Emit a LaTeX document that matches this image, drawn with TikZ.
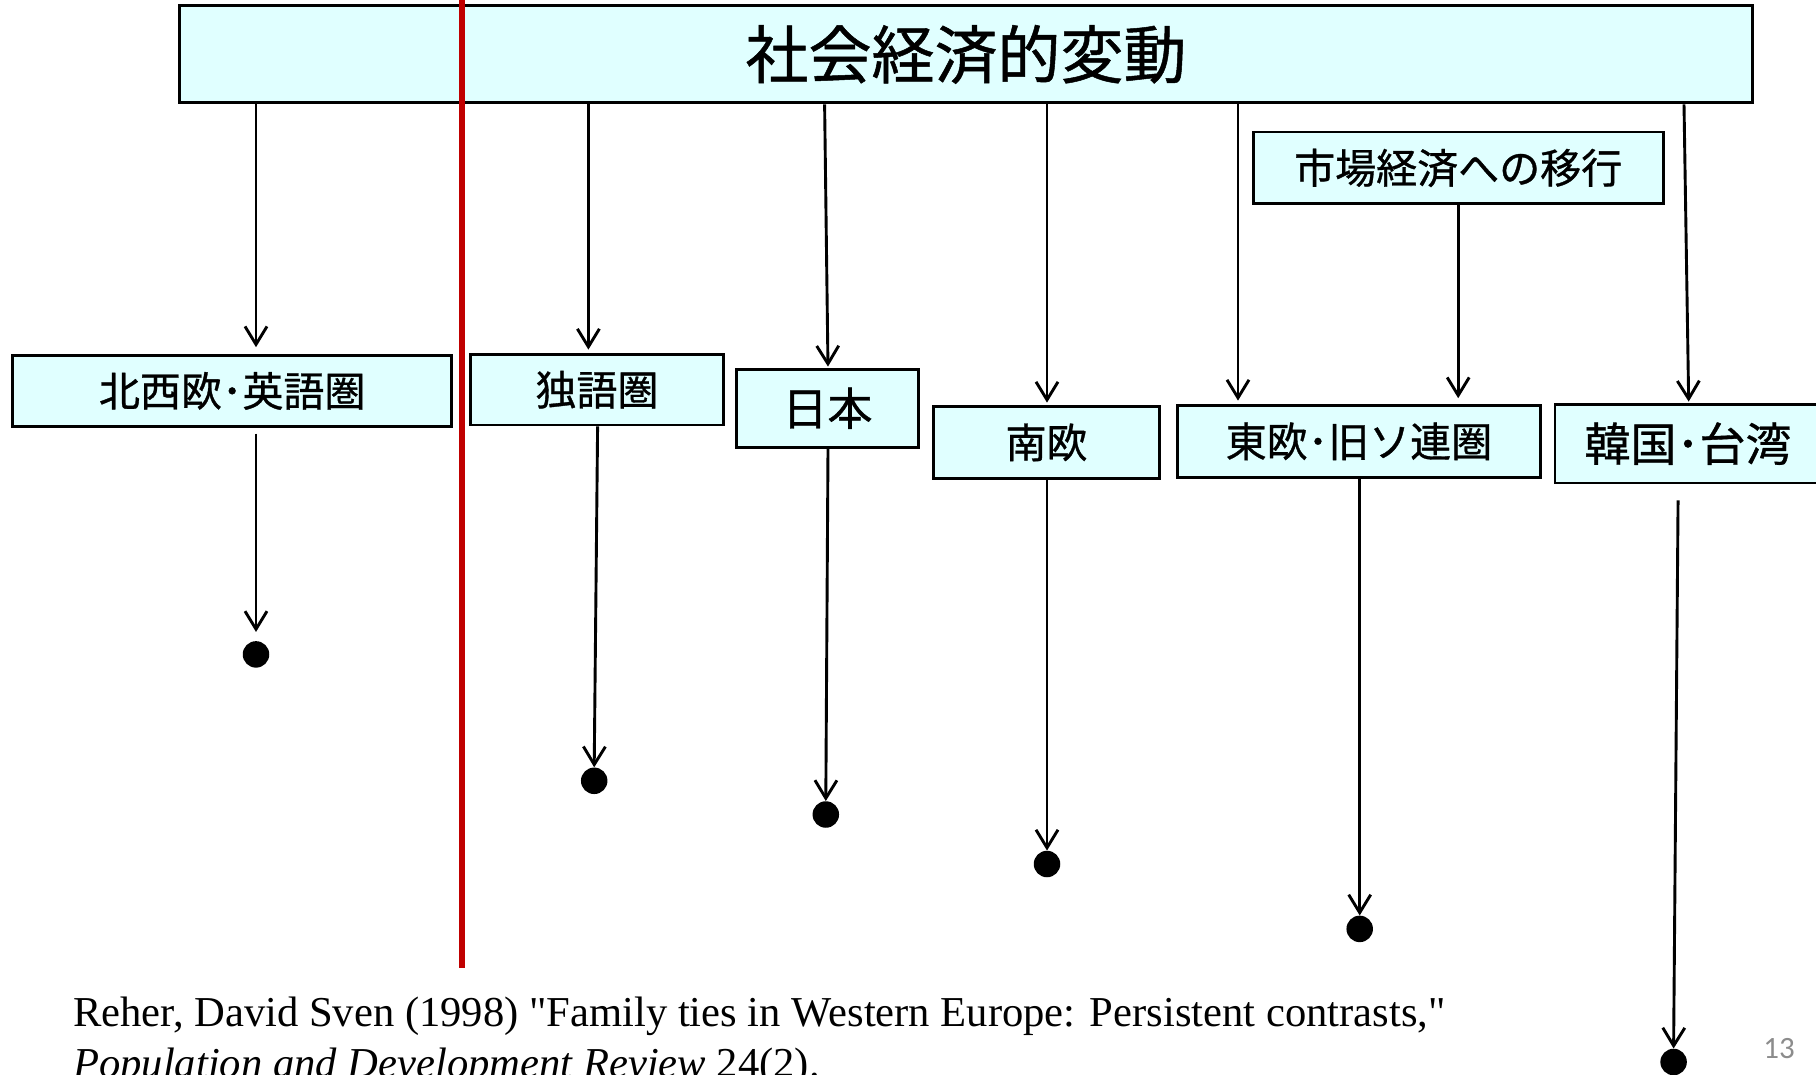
\documentclass[tikz,border=0pt]{standalone}
\usepackage{fontspec}
\setmainfont{Liberation Serif}
\newfontfamily\citefont{Liberation Serif}
\newfontfamily\jpfont[FakeBold=0.8]{Noto Sans CJK JP}
\newfontfamily\calfont{Carlito}
\usetikzlibrary{arrows.meta}
\definecolor{boxfill}{HTML}{E0FFFF}
\definecolor{redline}{HTML}{C00000}
\definecolor{pagegray}{HTML}{8C8C8C}
\begin{document}
\begin{tikzpicture}[x=1pt,y=-1pt,
  box/.style={draw=black, line width=2.8pt, fill=boxfill, inner sep=0pt},
  lbl/.style={font=\jpfont\fontsize{41}{48}\selectfont},
  arr/.style={line width=2.9pt, -{Straight Barb[length=18pt,width=22pt,line width=2.9pt]}},
  enddot/.style={circle, fill=black, inner sep=0pt, minimum size=26.5pt},
  cite/.style={anchor=base west, inner sep=0pt, font=\citefont\fontsize{42.6}{48}\selectfont}]
\useasboundingbox (0,0) rectangle (1816,1075);

% boxes
\node[box, minimum width=1573pt, minimum height=97pt, font=\jpfont\fontsize{63}{70}\selectfont] (top) at (966,54.4) {社会経済的変動};
\node[box, lbl, minimum width=439pt, minimum height=70.6pt] (nw) at (232.2,390.9) {北西欧･英語圏};
\node[box, lbl, minimum width=253.7pt, minimum height=70.6pt] (de) at (597,389.7) {独語圏};
\node[box, lbl, minimum width=181.8pt, minimum height=77.6pt, font=\jpfont\fontsize{45}{50}\selectfont] (jp) at (827.5,408.3) {日本};
\node[box, lbl, minimum width=225.9pt, minimum height=71.8pt] (se) at (1046.5,442.4) {南欧};
\node[box, lbl, minimum width=362.5pt, minimum height=71.8pt] (ee) at (1359,441.3) {東欧･旧ソ連圏};
\node[box, lbl, minimum width=266pt, minimum height=78.8pt, font=\jpfont\fontsize{46}{50}\selectfont] (kr) at (1688,443.6) {韓国･台湾};
\node[box, lbl, minimum width=410pt, minimum height=71.8pt] (mk) at (1458.2,167.9) {市場経済への移行};

% end dots
\node[enddot] (d1) at (256,654.4) {};
\node[enddot] (d2) at (594.2,780.8) {};
\node[enddot] (d3) at (825.8,814.5) {};
\node[enddot] (d4) at (1047,864) {};
\node[enddot] (d5) at (1359.7,928.9) {};
\node[enddot] (d6) at (1673.6,1062) {};

% arrows from the top box
\draw[arr, shorten >=7pt] ([xshift=-710pt]top.south) -- ([xshift=23.8pt]nw.north);
\draw[arr, shorten >=3.4pt] ([xshift=-377.6pt]top.south) -- ([xshift=-8.6pt]de.north);
\draw[arr, shorten >=1.5pt] ([xshift=-141.4pt]top.south) -- ([xshift=0.5pt]jp.north);
\draw[arr, shorten >=2.5pt] ([xshift=81pt]top.south) -- ([xshift=0.5pt]se.north);
\draw[arr, shorten >=3.4pt] ([xshift=272pt]top.south) -- ([xshift=-121pt]ee.north);
\draw[arr, shorten >=1.2pt] ([xshift=718pt]top.south) -- ([xshift=0.7pt]kr.north);
\draw[arr, shorten >=5.8pt] (mk.south) -- ([xshift=99.2pt]ee.north);

% arrows to the end dots
\draw[arr, shorten <=6pt, shorten >=9pt] ([xshift=23.8pt]nw.south) -- (d1.north);
\draw[arr] ([xshift=0.6pt]de.south) -- (d2.north);
\draw[arr] ([xshift=0.5pt]jp.south) -- (d3.north);
\draw[arr] ([xshift=0.5pt]se.south) -- (d4.north);
\draw[arr] ([xshift=0.7pt]ee.south) -- (d5.north);
\draw[arr, shorten <=16pt] ([xshift=-9.8pt]kr.south) -- (d6.north);

% red divider
\draw[redline, line width=5.6pt] (462,0) coordinate (r0) -- (462,968) coordinate (r1);

% citation
\node[cite] (cite1) at (73,1026.5)
  {Reher, David Sven (1998) "Family ties in Western Europe: Persistent contrasts,"};
\node[cite] (cite2) at (73,1077)
  {\itshape Population and Development Review\upshape{} 24(2).};

% page number
\node[anchor=base east, inner sep=0pt, text=pagegray, font=\calfont\fontsize{31}{33}\selectfont] (pg) at (1795,1058) {13};
\end{tikzpicture}
\end{document}
